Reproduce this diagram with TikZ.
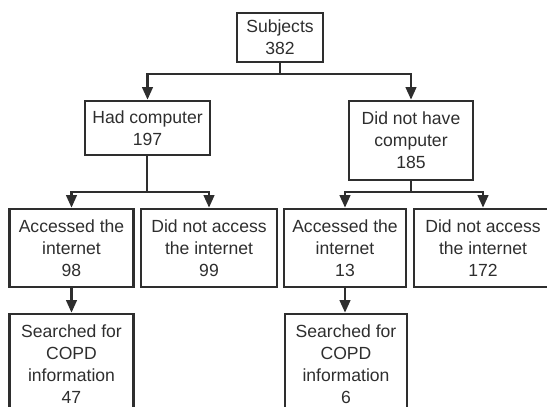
\documentclass[tikz,border=0pt]{standalone}
\usepackage{fontspec}
\setmainfont{Liberation Sans}
\usetikzlibrary{arrows.meta}
\definecolor{ink}{HTML}{2E2E2E}
\begin{document}
\begin{tikzpicture}[x=0.02cm,y=-0.02cm,
  box/.style={draw=ink, line width=1.5pt, text=ink, align=center, inner sep=0pt,
    font=\fontsize{10}{12.5}\selectfont},
  link/.style={draw=ink, line width=1.35pt},
  arr/.style={link, -{Triangle[length=0.25cm,width=0.21cm]}}]

\useasboundingbox (0,0) rectangle (547,406);

\node[box, minimum width=1.72cm, minimum height=0.98cm] (subj) at (280,37.5) {Subjects\\382};

\node[box, minimum width=2.5cm, minimum height=1.08cm] (had) at (147.5,128) {Had computer\\197};
\node[box, minimum width=2.48cm, minimum height=1.58cm] (nothad) at (411,140.5) {Did not have\\computer\\185};

\node[box, minimum width=2.48cm, minimum height=1.56cm] (acc1) at (71.5,248) {Accessed the\\internet\\98};
\node[box, minimum width=2.72cm, minimum height=1.56cm] (noacc1) at (209,248) {Did not access\\the internet\\99};
\node[box, minimum width=2.44cm, minimum height=1.56cm] (acc2) at (345,248) {Accessed the\\internet\\13};
\node[box, minimum width=2.76cm, minimum height=1.56cm] (noacc2) at (483,248) {Did not access\\the internet\\172};

\node[box, minimum width=2.48cm, minimum height=2.0cm] (srch1) at (71.5,364) {Searched for\\COPD\\information\\47};
\node[box, minimum width=2.44cm, minimum height=2.0cm] (srch2) at (346,364) {Searched for\\COPD\\information\\6};

\coordinate (j0) at (280,74);
\coordinate (j1) at (147,192);
\coordinate (j2) at (411,192);

\draw[link] (subj) -- (j0);
\draw[arr] (j0) -| (had);
\draw[arr] (j0) -| (nothad);

\draw[link] (had.south -| j1) -- (j1);
\draw[arr] (j1) -| (acc1);
\draw[arr] (j1) -| (noacc1);

\draw[link] (nothad) -- (j2);
\draw[arr] (j2) -| (acc2);
\draw[arr] (j2) -| (noacc2);

\draw[arr] (acc1) -- (srch1);
\draw[arr] (acc2) -- (acc2 |- srch2.north);

\end{tikzpicture}
\end{document}
